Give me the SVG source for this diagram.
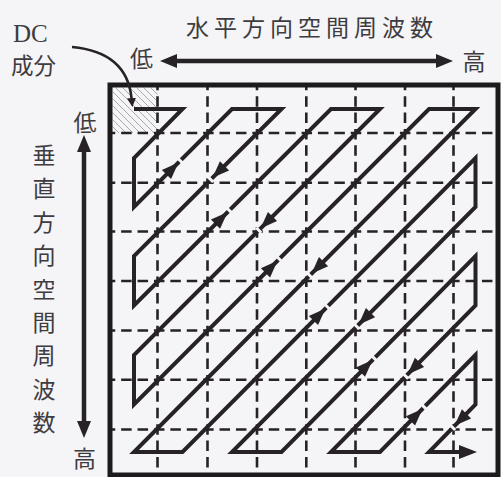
<svg xmlns="http://www.w3.org/2000/svg" xmlns:xlink="http://www.w3.org/1999/xlink" width="501" height="477" viewBox="0 0 501 477">
  <style>
    .bg { fill: #f5f4f6; }
    .jp { font-family: "Noto Sans CJK JP", "Noto Sans CJK SC", sans-serif; fill: #3e3c40; }
    .lat { font-family: "Liberation Serif", serif; fill: #3e3c40; }
    .grid { stroke: #262228; stroke-width: 2.6; fill: none; stroke-dasharray: 10.5 5.9; stroke-dashoffset: 5.25; }
    .frame { stroke: #1d1a1e; stroke-width: 5; fill: none; }
    .hatch { stroke: #a29ea6; stroke-width: 0.9; }
    .zig { stroke: #272226; stroke-width: 4; fill: none; stroke-linejoin: miter; stroke-miterlimit: 6; }
    .axis { stroke: #272226; stroke-width: 4.5; fill: none; }
    .ahead { fill: #272226; }
  </style>
  <defs>
    <g id="ah">
      <rect x="1" y="-3.5" width="3" height="7" class="bg"/>
      <path class="ahead" d="M0,0 L-17,-6.5 L-17,6.5 Z"/>
    </g>
    <marker id="axm" markerUnits="userSpaceOnUse" markerWidth="18" markerHeight="16" refX="0" refY="7" orient="auto-start-reverse" viewBox="0 0 18 14">
      <path class="ahead" d="M0,0 L17,7 L0,14 Z"/>
    </marker>
    <marker id="dcm" markerUnits="userSpaceOnUse" markerWidth="10" markerHeight="10" refX="0" refY="4.5" orient="auto" viewBox="0 0 10 9">
      <path class="ahead" d="M0,0 L9,4.5 L0,9 Z"/>
    </marker>
    <clipPath id="dcclip">
      <rect x="112.5" y="87.5" width="45" height="45.5"/>
    </clipPath>
  </defs>

  <rect class="bg" x="0" y="0" width="501" height="477"/>

  <g id="labels">
    <text class="jp" x="186" y="36" font-size="23" letter-spacing="5">水平方向空間周波数</text>
    <text class="lat" x="13" y="42" font-size="25">DC</text>
    <text class="jp" x="11" y="74" font-size="22.5">成分</text>
    <text class="jp" x="141.5" y="67" font-size="23" text-anchor="middle">低</text>
    <text class="jp" x="474" y="70" font-size="23" text-anchor="middle">高</text>
    <text class="jp" x="85" y="131" font-size="23" text-anchor="middle">低</text>
    <text class="jp" x="84.5" y="467" font-size="23" text-anchor="middle">高</text>
    <g class="jp" font-size="23" text-anchor="middle">
      <text x="44" y="164">垂</text>
      <text x="44" y="197.4">直</text>
      <text x="44" y="230.8">方</text>
      <text x="44" y="264.2">向</text>
      <text x="44" y="297.6">空</text>
      <text x="44" y="331">間</text>
      <text x="44" y="364.4">周</text>
      <text x="44" y="397.8">波</text>
      <text x="44" y="431.2">数</text>
    </g>
  </g>

  <g id="axes">
    <line class="axis" x1="177" y1="61" x2="436" y2="61" marker-start="url(#axm)" marker-end="url(#axm)"/>
    <line class="axis" x1="84" y1="152" x2="84" y2="421" marker-start="url(#axm)" marker-end="url(#axm)"/>
  </g>

  <g id="dc-cell" clip-path="url(#dcclip)">
    <g class="hatch">
      <line x1="100" y1="37" x2="170" y2="107"/>
      <line x1="100" y1="44" x2="170" y2="114"/>
      <line x1="100" y1="51" x2="170" y2="121"/>
      <line x1="100" y1="58" x2="170" y2="128"/>
      <line x1="100" y1="65" x2="170" y2="135"/>
      <line x1="100" y1="72" x2="170" y2="142"/>
      <line x1="100" y1="79" x2="170" y2="149"/>
      <line x1="100" y1="86" x2="170" y2="156"/>
      <line x1="100" y1="93" x2="170" y2="163"/>
      <line x1="100" y1="100" x2="170" y2="170"/>
      <line x1="100" y1="107" x2="170" y2="177"/>
      <line x1="100" y1="114" x2="170" y2="184"/>
      <line x1="100" y1="121" x2="170" y2="191"/>
    </g>
  </g>

  <g id="grid">
    <line class="grid" x1="157.5" y1="85" x2="157.5" y2="475"/>
    <line class="grid" x1="207.5" y1="85" x2="207.5" y2="475"/>
    <line class="grid" x1="257" y1="85" x2="257" y2="475"/>
    <line class="grid" x1="306.3" y1="85" x2="306.3" y2="475"/>
    <line class="grid" x1="355.5" y1="85" x2="355.5" y2="475"/>
    <line class="grid" x1="405" y1="85" x2="405" y2="475"/>
    <line class="grid" x1="453.5" y1="85" x2="453.5" y2="475"/>
    <line class="grid" x1="110" y1="133" x2="498" y2="133"/>
    <line class="grid" x1="110" y1="182.8" x2="498" y2="182.8"/>
    <line class="grid" x1="110" y1="231.5" x2="498" y2="231.5"/>
    <line class="grid" x1="110" y1="281" x2="498" y2="281"/>
    <line class="grid" x1="110" y1="330.5" x2="498" y2="330.5"/>
    <line class="grid" x1="110" y1="379.8" x2="498" y2="379.8"/>
    <line class="grid" x1="110" y1="429.5" x2="498" y2="429.5"/>
    <rect class="frame" x="110" y="85" width="388" height="390"/>
  </g>

  <g id="connectors">
    <path class="zig" d="M134,109 L182.5,109 L134,158 L134,207 L232,109 L281.5,109 L134,256 L134,305.5 L331,109 L380,109 L134,355 L134,404.5 L429,109 L475.5,109 L134,452 L182.5,452 L475.5,158 L475.5,207 L232,452 L281.5,452 L475.5,256 L475.5,305.5 L331,452 L380,452 L475.5,355 L475.5,404.5 L429,452 L462,452"/>
    <use xlink:href="#ah" href="#ah" transform="translate(178.5,162.5) rotate(-45)"/>
    <use xlink:href="#ah" href="#ah" transform="translate(212.5,177.8) rotate(135)"/>
    <use xlink:href="#ah" href="#ah" transform="translate(227.5,212.2) rotate(-45)"/>
    <use xlink:href="#ah" href="#ah" transform="translate(260.5,228.5) rotate(135)"/>
    <use xlink:href="#ah" href="#ah" transform="translate(277.5,260.8) rotate(-45)"/>
    <use xlink:href="#ah" href="#ah" transform="translate(311.5,273.7) rotate(135)"/>
    <use xlink:href="#ah" href="#ah" transform="translate(325.5,308.5) rotate(-45)"/>
    <use xlink:href="#ah" href="#ah" transform="translate(358.5,324.7) rotate(135)"/>
    <use xlink:href="#ah" href="#ah" transform="translate(372.5,360.1) rotate(-45)"/>
    <use xlink:href="#ah" href="#ah" transform="translate(407.5,374.4) rotate(135)"/>
    <use xlink:href="#ah" href="#ah" transform="translate(422.5,408.9) rotate(-45)"/>
    <use xlink:href="#ah" href="#ah" transform="translate(454.5,425.8) rotate(135)"/>
    <path class="ahead" d="M477,452 L459,445 L459,459 Z"/>
    <path d="M72,47 C105,50 128,64 131.5,98" stroke="#272226" stroke-width="2.6" fill="none" marker-end="url(#dcm)"/>
  </g>
</svg>
